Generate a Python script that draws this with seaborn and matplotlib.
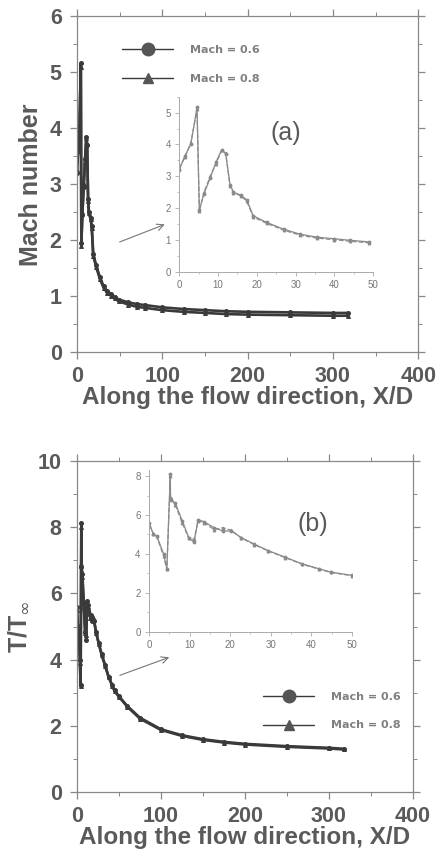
import matplotlib
matplotlib.use("Agg")
import matplotlib.pyplot as plt
from matplotlib.lines import Line2D
from matplotlib.ticker import MultipleLocator
import seaborn as sns
import pandas as pd

sns.set_theme(style="white")
plt.rcParams['font.family'] = ['Liberation Sans', 'DejaVu Sans']

# ---------------- data ----------------
SERIES = ["Mach = 0.6", "Mach = 0.8"]

# panel (a): Mach number along X/D
XA = [0, 1.5, 3, 4.6, 5.2, 6.4, 8, 9.5, 11, 12, 13.1, 14, 16, 17.4, 19.1,
      22.6, 26.9, 31.2, 35.5, 39.8, 44.1, 48.9, 60, 70, 80, 100, 125, 150,
      175, 200, 250, 300, 318]
MA_06 = [3.2, 3.65, 4.0, 5.16, 1.95, 2.45, 2.95, 3.45, 3.84, 3.7, 2.74, 2.5,
         2.4, 2.26, 1.76, 1.55, 1.34, 1.18, 1.09, 1.04, 0.99, 0.94, 0.89,
         0.86, 0.84, 0.80, 0.77, 0.75, 0.73, 0.72, 0.71, 0.70, 0.70]
MA_08 = [3.25, 3.6, 4.05, 5.1, 1.9, 2.5, 3.0, 3.4, 3.82, 3.72, 2.7, 2.48,
         2.38, 2.22, 1.72, 1.52, 1.31, 1.15, 1.06, 1.01, 0.96, 0.91, 0.85,
         0.81, 0.79, 0.75, 0.72, 0.70, 0.68, 0.67, 0.66, 0.65, 0.65]

# panel (b): T/T_inf along X/D
XB = [0, 1.1, 1.9, 3.6, 4.4, 5.25, 5.3, 6.5, 8.2, 9.8, 11.1, 12.1, 13.6,
      16.1, 18.2, 20.3, 22.75, 26, 29.4, 33.6, 37.75, 41.9, 44.8, 50, 60,
      75, 100, 125, 150, 175, 200, 250, 300, 318]
TB_06 = [5.6, 5.0, 4.93, 4.0, 3.24, 8.13, 6.8, 6.6, 5.7, 4.84, 4.6, 5.77,
         5.65, 5.35, 5.18, 5.18, 4.84, 4.5, 4.17, 3.83, 3.49, 3.24, 3.07,
         2.9, 2.6, 2.25, 1.9, 1.72, 1.6, 1.52, 1.46, 1.39, 1.34, 1.31]
TB_08 = [5.5, 5.05, 4.9, 3.9, 3.2, 8.0, 6.9, 6.5, 5.6, 4.8, 4.75, 5.7,
         5.6, 5.25, 5.35, 5.22, 4.82, 4.48, 4.15, 3.81, 3.47, 3.22, 3.05,
         2.88, 2.58, 2.22, 1.88, 1.70, 1.58, 1.50, 1.44, 1.37, 1.32, 1.29]

df_a = pd.DataFrame({"x": XA * 2, "y": MA_06 + MA_08,
                     "series": [SERIES[0]] * len(XA) + [SERIES[1]] * len(XA)})
df_b = pd.DataFrame({"x": XB * 2, "y": TB_06 + TB_08,
                     "series": [SERIES[0]] * len(XB) + [SERIES[1]] * len(XB)})

LINE = "#3a3a3a"
GREY = "#5a5a5a"
INSET = "#8a8a8a"
MARKERS = {SERIES[0]: "o", SERIES[1]: "^"}

fig = plt.figure(figsize=(4.37, 8.63), dpi=100)
ax_a = fig.add_axes([0.176, 0.592, 0.781, 0.389])
ax_b = fig.add_axes([0.176, 0.082, 0.769, 0.384])
in_a = fig.add_axes([0.410, 0.685, 0.444, 0.203])
in_b = fig.add_axes([0.341, 0.268, 0.464, 0.187])


def style_main(ax, ylim, ymaj, ymin, ylabel):
    ax.set_xlim(0, 400)
    ax.set_ylim(*ylim)
    ax.xaxis.set_major_locator(MultipleLocator(100))
    ax.xaxis.set_minor_locator(MultipleLocator(50))
    ax.yaxis.set_major_locator(MultipleLocator(ymaj))
    ax.yaxis.set_minor_locator(MultipleLocator(ymin))
    for s in ax.spines.values():
        s.set_visible(True)
        s.set_color("#888888")
        s.set_linewidth(0.9)
    ax.tick_params(which="both", left=True, bottom=True, top=True, right=True,
                   direction="out", colors="#888888", labelcolor=GREY,
                   labelsize=15.5)
    ax.tick_params(which="major", length=5, width=0.9)
    ax.tick_params(which="minor", length=3, width=0.7)
    ax.tick_params(axis="y", which="major", pad=6)
    ax.tick_params(axis="x", which="major", pad=5)
    for lab in ax.get_xticklabels() + ax.get_yticklabels():
        lab.set_fontweight("bold")
    ax.set_xlabel("Along the flow direction, X/D", fontsize=17.5,
                  fontweight="bold", color=GREY, labelpad=-1)
    ax.set_ylabel(ylabel, fontsize=18, fontweight="bold", color=GREY,
                  labelpad=5)


def style_inset(ax, ylim, ymaj):
    ax.set_xlim(0, 50)
    ax.set_ylim(*ylim)
    ax.xaxis.set_major_locator(MultipleLocator(10))
    ax.xaxis.set_minor_locator(MultipleLocator(5))
    ax.yaxis.set_major_locator(MultipleLocator(ymaj))
    ax.yaxis.set_minor_locator(MultipleLocator(ymaj / 2))
    ax.patch.set_alpha(0)
    ax.spines["top"].set_visible(False)
    ax.spines["right"].set_visible(False)
    for s in ("left", "bottom"):
        ax.spines[s].set_visible(True)
        ax.spines[s].set_color("#aaaaaa")
        ax.spines[s].set_linewidth(0.7)
    ax.tick_params(which="both", left=True, bottom=True, direction="out",
                   colors="#aaaaaa", labelcolor="#777777", labelsize=7)
    ax.tick_params(which="major", length=3, width=0.6, pad=3)
    ax.tick_params(which="minor", length=1.5, width=0.5)
    ax.set_xlabel("")
    ax.set_ylabel("")


# main curves
for ax, df in ((ax_a, df_a), (ax_b, df_b)):
    for name in SERIES:
        sub = df[df["series"] == name]
        sns.lineplot(data=sub, x="x", y="y", ax=ax, color=LINE, lw=1.9,
                     marker=MARKERS[name], markersize=2.8, mec=LINE,
                     sort=False, estimator=None, legend=False)

# insets
for ax, df in ((in_a, df_a), (in_b, df_b)):
    for name, ls in zip(SERIES, ["-", "--"]):
        sub = df[(df["series"] == name) & (df["x"] <= 50)]
        sns.lineplot(data=sub, x="x", y="y", ax=ax, color=INSET, lw=0.9,
                     linestyle=ls, marker=MARKERS[name], markersize=2,
                     mec=INSET, sort=False, estimator=None, legend=False)

style_main(ax_a, (0, 6), 1, 0.5, "Mach number")
style_main(ax_b, (0, 10), 2, 1, r"T/T$_\infty$")
style_inset(in_a, (0, 5.5), 1)
style_inset(in_b, (0, 8.3), 2)

ax_a.text(0.566, 0.652, "(a)", transform=ax_a.transAxes, fontsize=18,
          color=GREY, ha="left", va="center")
ax_b.text(0.655, 0.81, "(b)", transform=ax_b.transAxes, fontsize=18,
          color=GREY, ha="left", va="center")

arrow = dict(arrowstyle="->", color="#777777", lw=0.8)
ax_a.annotate("", xy=(106, 2.3), xytext=(47, 1.95), arrowprops=arrow)
ax_b.annotate("", xy=(113, 4.1), xytext=(48, 3.5), arrowprops=arrow)

handles = [Line2D([], [], color=LINE, lw=1.0, marker="o", markersize=9,
                  mfc="#555555", mec="#555555"),
           Line2D([], [], color=LINE, lw=1.0, marker="^", markersize=7,
                  mfc="#555555", mec="#555555")]
for ax, loc in ((ax_a, (0.132, 0.857)), (ax_b, (0.554, 0.245))):
    leg = ax.legend(handles, SERIES, loc="center left", bbox_to_anchor=loc,
                    frameon=False, handlelength=4.6, handletextpad=1.5,
                    labelspacing=1.7, borderaxespad=0, borderpad=0,
                    prop={"family": "DejaVu Sans", "size": 8,
                          "weight": "bold"})
    for t in leg.get_texts():
        t.set_color("#808080")

fig.savefig("out.png", dpi=100, facecolor="white")
